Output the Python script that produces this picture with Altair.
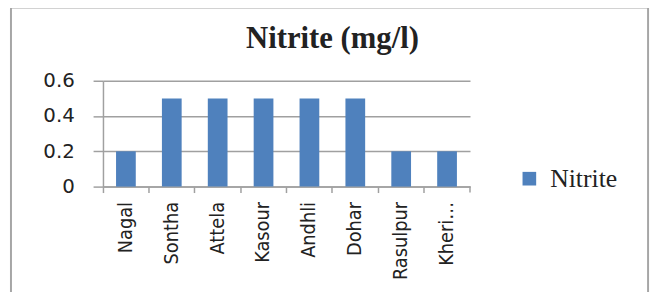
import altair as alt
import pandas as pd

categories = ["Nagal", "Sontha", "Attela", "Kasour", "Andhli", "Dohar", "Rasulpur", "Kheri…"]
nitrite = [0.2, 0.5, 0.5, 0.5, 0.5, 0.5, 0.2, 0.2]
series_name = "Nitrite"
y_ticks = [0, 0.2, 0.4, 0.6]
chart_title = "Nitrite (mg/l)"

df = pd.DataFrame({"site": categories, "value": nitrite, "series": [series_name] * len(categories)})

W, H = 371, 107
GRAY = "#A0A0A0"
XFONT = "'DejaVu Sans Condensed', 'Liberation Sans Narrow', 'Open Sans', sans-serif"

base = alt.Chart(df)

bars = base.mark_bar(width={"band": 0.43}).encode(
    x=alt.X("site:N", sort=categories, title=None,
            scale=alt.Scale(paddingInner=0, paddingOuter=0),
            axis=alt.Axis(labelAngle=-90, bandPosition=0,
                          labelFont=XFONT, labelFontSize=20,
                          labelColor="#222222", labelPadding=9,
                          tickSize=6, tickColor=GRAY, domainColor=GRAY, domainWidth=1.5,
                          tickWidth=1.5, grid=False)),
    y=alt.Y("value:Q", title=None,
            scale=alt.Scale(domain=[0, 0.6]),
            axis=alt.Axis(values=y_ticks, format="~g", labelFont="DejaVu Sans",
                          labelFontSize=20, labelColor="#222222", labelPadding=19,
                          tickSize=10, tickColor=GRAY, tickWidth=1.5,
                          domainColor=GRAY, domainWidth=1.5,
                          grid=True, gridColor=GRAY, gridWidth=1.5)),
    color=alt.Color("series:N", scale=alt.Scale(range=["#4F81BD"]),
                    legend=alt.Legend(orient="none", legendX=418, legendY=86, title=None,
                                      symbolType="square", symbolSize=190,
                                      symbolStrokeWidth=0, labelOffset=8,
                                      labelFont="Liberation Serif", labelFontSize=26,
                                      labelColor="#222222")),
)

one = pd.DataFrame({"k": [0]})

end_tick = alt.Chart(one).mark_rule(color=GRAY, strokeWidth=1.5).encode(
    x=alt.value(W), y=alt.value(H), y2=alt.value(H + 6))

border = alt.Chart(one).mark_rect(
    filled=False, stroke="#A6A6A6", strokeWidth=2).encode(
    x=alt.value(-93), x2=alt.value(551), y=alt.value(-74), y2=alt.value(220))

title = alt.Chart(one).mark_text(
    font="Liberation Serif", fontSize=31, fontWeight="bold", color="#222222",
    align="center", baseline="alphabetic").encode(
    x=alt.value(232), y=alt.value(-33), text=alt.value(chart_title))

chart = alt.layer(border, bars, end_tick, title).properties(
    width=W, height=H,
    autosize=alt.AutoSizeParams(type="none"),
    padding={"left": 96, "top": 72, "right": 186, "bottom": 105},
).configure_view(stroke=None)

chart.save("out.html", embed_options={"renderer": "svg", "actions": False})
